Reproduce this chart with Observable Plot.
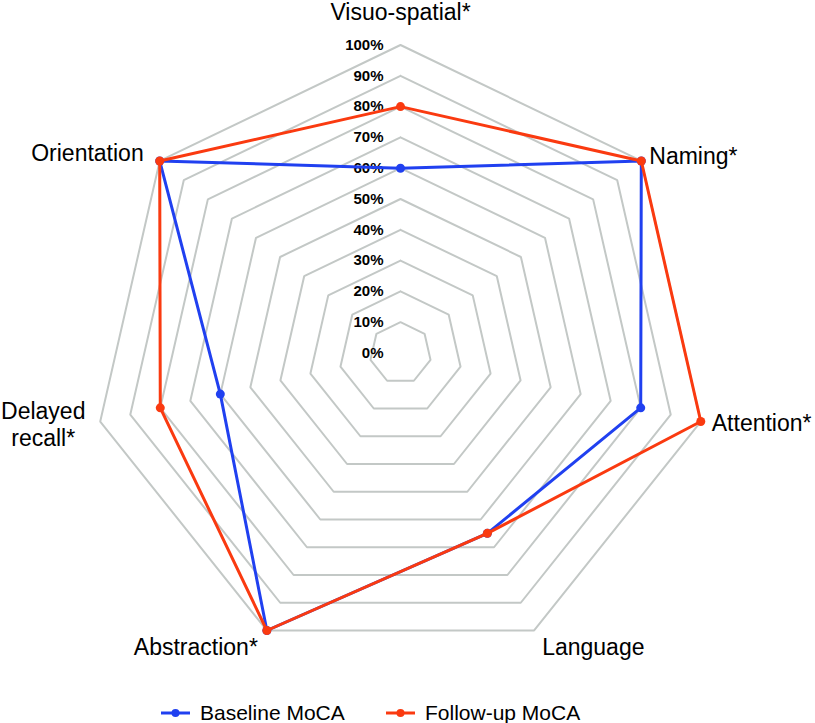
<!DOCTYPE html>
<html>
<head>
<meta charset="utf-8">
<script src="https://cdn.jsdelivr.net/npm/d3@7"></script>
<script src="https://cdn.jsdelivr.net/npm/@observablehq/plot@0.6"></script>
<style>
  html, body { margin: 0; padding: 0; background: #fff; }
  body { width: 815px; font-family: "Liberation Sans", Arial, sans-serif; color: #000; }
  #legend { position: relative; height: 42px; }
  .item { position: absolute; top: 0; height: 42px; display: flex; align-items: center; font-size: 21px; }
  .item svg { margin-right: 10px; }
</style>
</head>
<body>
<div id="chart"></div>
<div id="legend"></div>
<script>
// ---- data ----
const axes = ["Visuo-spatial*", "Naming*", "Attention*", "Language", "Abstraction*", "Delayed\nrecall*", "Orientation"];
const baseline = [0.60, 1.00, 0.80, 0.65, 1.00, 0.60, 1.00];
const followup = [0.80, 1.00, 1.00, 0.65, 1.00, 0.80, 1.00];
const levels = [0, 0.1, 0.2, 0.3, 0.4, 0.5, 0.6, 0.7, 0.8, 0.9, 1.0];
const tickLabels = ["0%", "10%", "20%", "30%", "40%", "50%", "60%", "70%", "80%", "90%", "100%"];
const seriesNames = ["Baseline MoCA", "Follow-up MoCA"];

// ---- styling / layout (not data) ----
const colors = {"Baseline MoCA": "#2040f0", "Follow-up MoCA": "#fa3a10"};
const gridColor = "#c3c8c6";
const labelLayout = [
  {anchor: "middle", dx: 0, dy: -34},
  {anchor: "start", dx: 8, dy: -6},
  {anchor: "start", dx: 11, dy: 1},
  {anchor: "start", dx: 8, dy: 16},
  {anchor: "end", dx: -9, dy: 16},
  {anchor: "middle", dx: -57, dy: 2},
  {anchor: "end", dx: -16, dy: -9}
];

const n = axes.length;
const angle = k => 2 * Math.PI * k / n;
const px = (k, r) => r * Math.sin(angle(k));
const py = (k, r) => r * Math.cos(angle(k));

// grid rings
const rings = [];
levels.filter(l => l > 0).forEach(l => {
  for (let k = 0; k <= n; k++) rings.push({level: l, x: px(k % n, l), y: py(k % n, l)});
});

// series polygons
function seriesPoints(name, vals) {
  const pts = [];
  for (let k = 0; k <= n; k++) {
    const i = k % n;
    pts.push({series: name, axis: axes[i], value: vals[i], x: px(i, vals[i]), y: py(i, vals[i]), closing: k === n});
  }
  return pts;
}
const basePts = seriesPoints(seriesNames[0], baseline);
const followPts = seriesPoints(seriesNames[1], followup);

const ticks = levels.map((l, i) => ({label: tickLabels[i], x: 0, y: l}));
const axisPts = axes.map((a, k) => ({label: a, x: px(k, 1), y: py(k, 1)}));

const labelMarks = axisPts.map((d, k) => Plot.text([d], {
  x: "x", y: "y", text: "label",
  textAnchor: labelLayout[k].anchor, dx: labelLayout[k].dx, dy: labelLayout[k].dy,
  fontSize: 23, lineHeight: 1.17, fill: "#000"
}));

const chart = Plot.plot({
  width: 815,
  height: 692,
  x: {domain: [-1, 1], range: [92, 708], axis: null},
  y: {domain: [-1, 1], range: [660.5, 44.5], axis: null},
  style: {fontFamily: "'Liberation Sans', Arial, sans-serif", background: "#fff", color: "#000"},
  marks: [
    Plot.line(rings, {x: "x", y: "y", z: "level", stroke: gridColor, strokeWidth: 2, strokeLinejoin: "miter"}),
    Plot.text(ticks, {x: "x", y: "y", text: "label", textAnchor: "end", dx: -17, fontSize: 15, fontWeight: "bold", fill: "#000"}),
    Plot.line(basePts, {x: "x", y: "y", stroke: colors[seriesNames[0]], strokeWidth: 3}),
    Plot.dot(basePts.filter(d => !d.closing), {x: "x", y: "y", r: 4.5, fill: colors[seriesNames[0]], stroke: "none"}),
    Plot.line(followPts, {x: "x", y: "y", stroke: colors[seriesNames[1]], strokeWidth: 3}),
    Plot.dot(followPts.filter(d => !d.closing), {x: "x", y: "y", r: 4.5, fill: colors[seriesNames[1]], stroke: "none"}),
    ...labelMarks
  ]
});
document.getElementById("chart").appendChild(chart);

// legend
const legend = document.getElementById("legend");
const lefts = [161, 386];
seriesNames.forEach((name, i) => {
  const item = document.createElement("div");
  item.className = "item";
  item.style.left = lefts[i] + "px";
  const c = colors[name];
  item.innerHTML = `<svg width="29" height="12"><line x1="0" y1="6" x2="29" y2="6" stroke="${c}" stroke-width="3"/><circle cx="14.5" cy="6" r="4" fill="${c}"/></svg><span>${name}</span>`;
  legend.appendChild(item);
});
</script>
</body>
</html>
